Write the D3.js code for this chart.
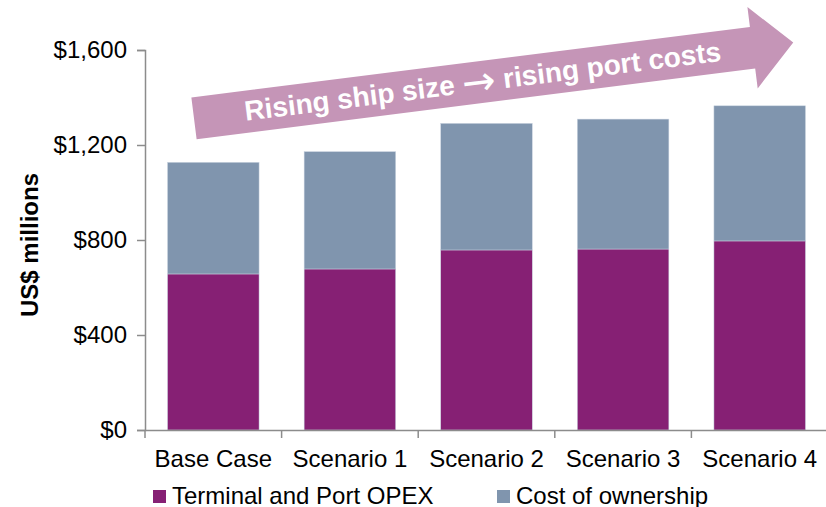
<!DOCTYPE html>
<html>
<head>
<meta charset="utf-8">
<script src="https://cdn.jsdelivr.net/npm/d3@7"></script>
<style>
  html, body { margin: 0; padding: 0; background: #fff; }
  svg { display: block; font-family: "Liberation Sans", Arial, sans-serif; }
</style>
</head>
<body>
<svg id="chart" width="826" height="507"></svg>
<script>
// Scenario categories and stacked cost components (US$ millions)
const categories = ["Base Case", "Scenario 1", "Scenario 2", "Scenario 3", "Scenario 4"];
const terminalOpex = [657, 678, 758, 762, 796];
const costOfOwnership = [470, 494, 533, 547, 569];
const yTicks = [0, 400, 800, 1200, 1600];
const seriesNames = ["Terminal and Port OPEX", "Cost of ownership"];
const seriesColors = ["#862074", "#8095AE"];

const svg = d3.select("#chart");
const margin = { left: 145, right: -2, top: 50, bottom: 77 };
const W = 826, H = 507;

const x = d3.scaleBand()
  .domain(categories)
  .range([margin.left, W - margin.right])
  .paddingInner(0)
  .paddingOuter(0);

const y = d3.scaleLinear()
  .domain([0, 1600])
  .range([H - margin.bottom, margin.top]);

// stacked rows
const rows = categories.map((c, i) => ({
  cat: c,
  opex: terminalOpex[i],
  own: costOfOwnership[i]
}));
const stack = d3.stack().keys(["opex", "own"]);
const layers = stack(rows);

const barW = x.bandwidth() * 0.67;

svg.append("g").selectAll("g")
  .data(layers)
  .join("g")
  .attr("fill", (d, i) => seriesColors[i])
  .selectAll("rect")
  .data(d => d)
  .join("rect")
  .attr("x", d => x(d.data.cat) + (x.bandwidth() - barW) / 2)
  .attr("width", barW)
  .attr("y", d => y(d[1]))
  .attr("height", d => y(d[0]) - y(d[1]))
  .attr("stroke", "#c9d3e0")
  .attr("stroke-width", 0.5);

const axisColor = "#8c8c8c";
const fontSize = 24;

// y axis
const yAxis = svg.append("g")
  .attr("transform", `translate(${margin.left},0)`)
  .call(d3.axisLeft(y).tickValues(yTicks).tickSize(8).tickPadding(10)
    .tickFormat(d3.format("$,")));
yAxis.select(".domain").attr("stroke", axisColor).attr("stroke-width", 1.5);
yAxis.selectAll(".tick line").attr("stroke", axisColor).attr("stroke-width", 1.5);
yAxis.selectAll("text")
  .attr("font-size", fontSize)
  .attr("fill", "#000")
  .attr("font-family", "Liberation Sans, Arial, sans-serif");

// x axis: labels centred on bands, ticks on band boundaries
const xAxis = svg.append("g")
  .attr("transform", `translate(0,${y(0)})`)
  .call(d3.axisBottom(x).tickSize(0).tickPadding(20));
xAxis.select(".domain").attr("stroke", axisColor).attr("stroke-width", 1.5);
xAxis.selectAll("text")
  .attr("font-size", fontSize)
  .attr("fill", "#000")
  .attr("font-family", "Liberation Sans, Arial, sans-serif");

const bounds = categories.map(c => x(c)).concat([x(categories[categories.length - 1]) + x.step()]);
svg.append("g").selectAll("line")
  .data(bounds)
  .join("line")
  .attr("x1", d => d).attr("x2", d => d)
  .attr("y1", y(0)).attr("y2", y(0) + 8)
  .attr("stroke", axisColor)
  .attr("stroke-width", 1.5);

// y axis title
svg.append("text")
  .attr("transform", `translate(38,245) rotate(-90)`)
  .attr("text-anchor", "middle")
  .attr("font-size", fontSize)
  .attr("font-weight", "bold")
  .attr("fill", "#000")
  .text("US$ millions");

// legend
const legendX = [153, 497];
const legend = svg.append("g").selectAll("g")
  .data(seriesNames)
  .join("g")
  .attr("transform", (d, i) => `translate(${legendX[i]},490)`);
legend.append("rect")
  .attr("width", 13).attr("height", 13)
  .attr("fill", (d, i) => seriesColors[i]);
legend.append("text")
  .attr("x", 19).attr("y", 13.5)
  .attr("font-size", fontSize)
  .attr("fill", "#000")
  .text(d => d);

// trend arrow annotation
const arrow = svg.append("g")
  .attr("transform", "translate(194,118.3) rotate(-7.2)");
arrow.append("path")
  .attr("d", "M0,-21 L563,-21 L563,-41 L604,0 L563,41 L563,21 L0,21 Z")
  .attr("fill", "#C595B7");
const label = arrow.append("text")
  .attr("x", 291).attr("y", 9)
  .attr("text-anchor", "middle")
  .attr("font-size", 28)
  .attr("font-weight", "bold")
  .attr("fill", "#fff");
label.append("tspan").text("Rising ship size ");
label.append("tspan")
  .attr("font-family", "DejaVu Sans")
  .attr("font-weight", "normal")
  .attr("font-size", 40)
  .attr("dy", 4)
  .text("\u2192");
label.append("tspan").attr("dy", -4).text(" rising port costs");
</script>
</body>
</html>
